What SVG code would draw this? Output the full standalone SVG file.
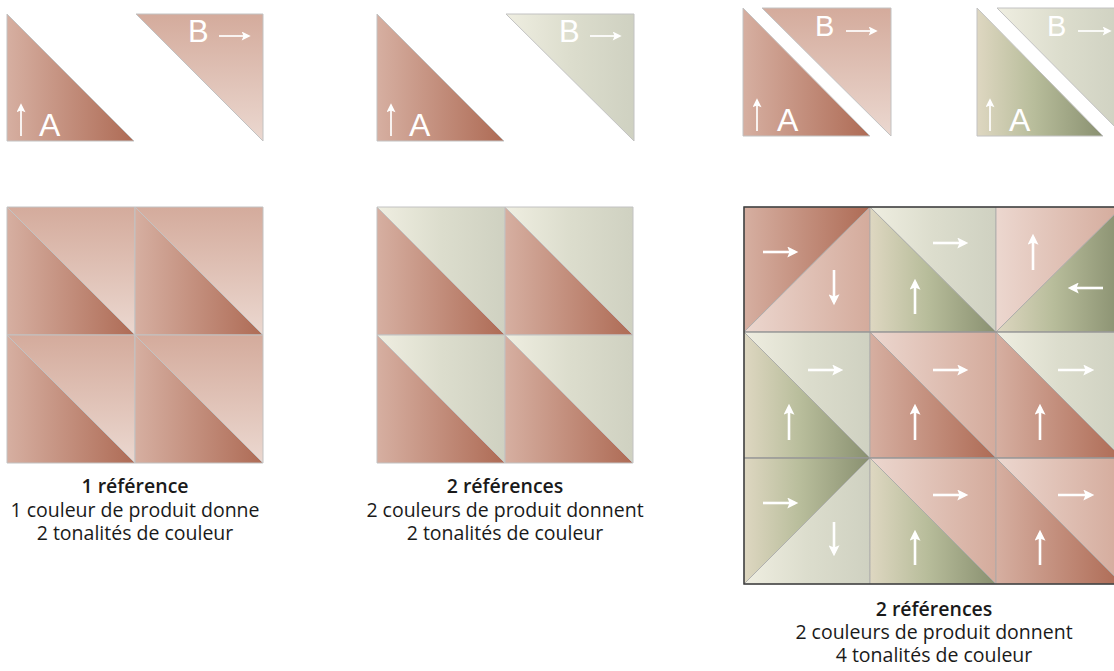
<svg xmlns="http://www.w3.org/2000/svg" width="1114" height="671" viewBox="0 0 1114 671">
<style>
.t{stroke:#c2c2c2;stroke-width:1;stroke-linejoin:round}
.g3{stroke:#a8a8a8;stroke-width:0.8}
.lbl{font-family:"Liberation Sans",Arial,sans-serif;fill:#fff}
.ar{stroke:#fff;stroke-width:1.7;fill:none;marker-end:url(#ahs)}
.arb{stroke:#fff;stroke-width:2.6;fill:none;marker-end:url(#ahb)}
.cap{font-family:"Open Sans","Noto Sans",sans-serif;font-size:19.5px;fill:#1a1a1a;text-anchor:middle}
.capb{font-weight:600}
</style>
<defs>
<linearGradient id="gTerra" x1="0" y1="0" x2="1" y2="0"><stop offset="0" stop-color="#d6afa1"/><stop offset="1" stop-color="#ae6b55"/></linearGradient>
<linearGradient id="gRoseV" x1="0" y1="0" x2="0" y2="1"><stop offset="0" stop-color="#d4ab9c"/><stop offset="1" stop-color="#ebd8d0"/></linearGradient>
<linearGradient id="gRoseH" x1="0" y1="0" x2="1" y2="0"><stop offset="0" stop-color="#ecd7cf"/><stop offset="1" stop-color="#d4ab9c"/></linearGradient>
<linearGradient id="gSage" x1="0" y1="0" x2="1" y2="0"><stop offset="0" stop-color="#efeee1"/><stop offset="0.5" stop-color="#dcddcd"/><stop offset="1" stop-color="#cfd1c1"/></linearGradient>
<linearGradient id="gGreen" x1="0" y1="0" x2="1" y2="0"><stop offset="0" stop-color="#ded7c1"/><stop offset="0.45" stop-color="#b8bd9b"/><stop offset="1" stop-color="#899070"/></linearGradient>
<marker id="ahs" viewBox="0 0 10 10" refX="7" refY="5" markerWidth="10" markerHeight="9" markerUnits="userSpaceOnUse" orient="auto"><path d="M0,0 L10,5 L0,10 L2,5z" fill="#fff"/></marker>
<marker id="ahb" viewBox="0 0 10 10" refX="7" refY="5" markerWidth="13" markerHeight="11" markerUnits="userSpaceOnUse" orient="auto"><path d="M0,0 L10,5 L0,10 L2,5z" fill="#fff"/></marker>
</defs>

<g id="piece-1">
<polygon class="t" points="7,14 7,141 134,141" fill="url(#gTerra)"/>
<polygon class="t" points="136,14 263,14 263,141" fill="url(#gRoseV)"/>
<text class="lbl" x="188" y="42" font-size="31">B</text>
<line class="ar" x1="219" y1="36" x2="248" y2="36"/>
<text class="lbl" x="39" y="136" font-size="32">A</text>
<line class="ar" x1="21" y1="136" x2="21" y2="106"/>
</g>

<g id="piece-2">
<polygon class="t" points="377,14 377,141 504,141" fill="url(#gTerra)"/>
<polygon class="t" points="506,14 634,14 634,141" fill="url(#gSage)"/>
<text class="lbl" x="559" y="42" font-size="31">B</text>
<line class="ar" x1="590" y1="36" x2="619" y2="36"/>
<text class="lbl" x="409" y="136" font-size="32">A</text>
<line class="ar" x1="391" y1="136" x2="391" y2="106"/>
</g>

<g id="piece-3">
<polygon class="t" points="743,8 743,136 870,136" fill="url(#gTerra)"/>
<polygon class="t" points="762,8 891,8 891,136" fill="url(#gRoseV)"/>
<text class="lbl" x="815" y="36" font-size="29">B</text>
<line class="ar" x1="846" y1="31" x2="875" y2="31"/>
<text class="lbl" x="777" y="131" font-size="32">A</text>
<line class="ar" x1="757" y1="131" x2="757" y2="101"/>
</g>

<g id="piece-4">
<polygon class="t" points="977,8 977,136 1103,136" fill="url(#gGreen)"/>
<polygon class="t" points="997,8 1124,8 1124,136" fill="url(#gSage)"/>
<text class="lbl" x="1047" y="36" font-size="29">B</text>
<line class="ar" x1="1078" y1="31" x2="1109" y2="31"/>
<text class="lbl" x="1009" y="131" font-size="32">A</text>
<line class="ar" x1="990" y1="131" x2="990" y2="101"/>
</g>

<g id="grid-1">
<polygon class="t" points="7,207 7,335 135,335" fill="url(#gTerra)"/>
<polygon class="t" points="7,207 135,207 135,335" fill="url(#gRoseV)"/>
<polygon class="t" points="135,207 135,335 263,335" fill="url(#gTerra)"/>
<polygon class="t" points="135,207 263,207 263,335" fill="url(#gRoseV)"/>
<polygon class="t" points="7,335 7,463 135,463" fill="url(#gTerra)"/>
<polygon class="t" points="7,335 135,335 135,463" fill="url(#gRoseV)"/>
<polygon class="t" points="135,335 135,463 263,463" fill="url(#gTerra)"/>
<polygon class="t" points="135,335 263,335 263,463" fill="url(#gRoseV)"/>
</g>

<g id="grid-2">
<polygon class="t" points="377,207 377,335 505,335" fill="url(#gTerra)"/>
<polygon class="t" points="377,207 505,207 505,335" fill="url(#gSage)"/>
<polygon class="t" points="505,207 505,335 633,335" fill="url(#gTerra)"/>
<polygon class="t" points="505,207 633,207 633,335" fill="url(#gSage)"/>
<polygon class="t" points="377,335 377,463 505,463" fill="url(#gTerra)"/>
<polygon class="t" points="377,335 505,335 505,463" fill="url(#gSage)"/>
<polygon class="t" points="505,335 505,463 633,463" fill="url(#gTerra)"/>
<polygon class="t" points="505,335 633,335 633,463" fill="url(#gSage)"/>
</g>

<g id="grid-3">
<polygon class="g3" points="744,207 870,207 744,332" fill="url(#gTerra)"/>
<polygon class="g3" points="870,207 870,332 744,332" fill="url(#gRoseH)"/>
<polygon class="g3" points="870,207 996,207 996,332" fill="url(#gSage)"/>
<polygon class="g3" points="870,207 870,332 996,332" fill="url(#gGreen)"/>
<polygon class="g3" points="996,207 1122,207 996,332" fill="url(#gRoseH)"/>
<polygon class="g3" points="1122,207 1122,332 996,332" fill="url(#gGreen)"/>
<polygon class="g3" points="744,332 870,332 870,458" fill="url(#gSage)"/>
<polygon class="g3" points="744,332 744,458 870,458" fill="url(#gGreen)"/>
<polygon class="g3" points="870,332 996,332 996,458" fill="url(#gRoseH)"/>
<polygon class="g3" points="870,332 870,458 996,458" fill="url(#gTerra)"/>
<polygon class="g3" points="996,332 1122,332 1122,458" fill="url(#gSage)"/>
<polygon class="g3" points="996,332 996,458 1122,458" fill="url(#gTerra)"/>
<polygon class="g3" points="744,458 870,458 744,584" fill="url(#gGreen)"/>
<polygon class="g3" points="870,458 870,584 744,584" fill="url(#gSage)"/>
<polygon class="g3" points="870,458 996,458 996,584" fill="url(#gRoseH)"/>
<polygon class="g3" points="870,458 870,584 996,584" fill="url(#gGreen)"/>
<polygon class="g3" points="996,458 1122,458 1122,584" fill="url(#gRoseH)"/>
<polygon class="g3" points="996,458 996,584 1122,584" fill="url(#gTerra)"/>
<line x1="744" y1="332" x2="1122" y2="332" stroke="#8c8c8c" stroke-width="1"/>
<line x1="744" y1="458" x2="1122" y2="458" stroke="#8c8c8c" stroke-width="1"/>
<rect x="744" y="207" width="378" height="377" fill="none" stroke="#3c3c3c" stroke-width="1.5"/>
<line class="arb" x1="763" y1="252" x2="795" y2="252"/>
<line class="arb" x1="834" y1="270" x2="834" y2="302"/>
<line class="arb" x1="933" y1="243" x2="965" y2="243"/>
<line class="arb" x1="915" y1="314" x2="915" y2="282"/>
<line class="arb" x1="1033" y1="270" x2="1033" y2="237"/>
<line class="arb" x1="1103" y1="288" x2="1071" y2="288"/>
<line class="arb" x1="808" y1="370" x2="840" y2="370"/>
<line class="arb" x1="789" y1="440" x2="789" y2="407"/>
<line class="arb" x1="933" y1="370" x2="965" y2="370"/>
<line class="arb" x1="915" y1="440" x2="915" y2="407"/>
<line class="arb" x1="1058" y1="370" x2="1091" y2="370"/>
<line class="arb" x1="1040" y1="440" x2="1040" y2="407"/>
<line class="arb" x1="763" y1="503" x2="795" y2="503"/>
<line class="arb" x1="834" y1="522" x2="834" y2="553"/>
<line class="arb" x1="933" y1="495" x2="965" y2="495"/>
<line class="arb" x1="915" y1="565" x2="915" y2="533"/>
<line class="arb" x1="1058" y1="495" x2="1091" y2="495"/>
<line class="arb" x1="1040" y1="565" x2="1040" y2="533"/>
</g>

<g id="caption-1">
<text class="cap capb" x="135" y="493">1 référence</text>
<text class="cap" x="135" y="517">1 couleur de produit donne</text>
<text class="cap" x="135" y="540">2 tonalités de couleur</text>
</g>
<g id="caption-2">
<text class="cap capb" x="505" y="493">2 références</text>
<text class="cap" x="505" y="517">2 couleurs de produit donnent</text>
<text class="cap" x="505" y="540">2 tonalités de couleur</text>
</g>
<g id="caption-3">
<text class="cap capb" x="934" y="616">2 références</text>
<text class="cap" x="934" y="639">2 couleurs de produit donnent</text>
<text class="cap" x="934" y="662">4 tonalités de couleur</text>
</g>
<g id="connectors"/>
</svg>
